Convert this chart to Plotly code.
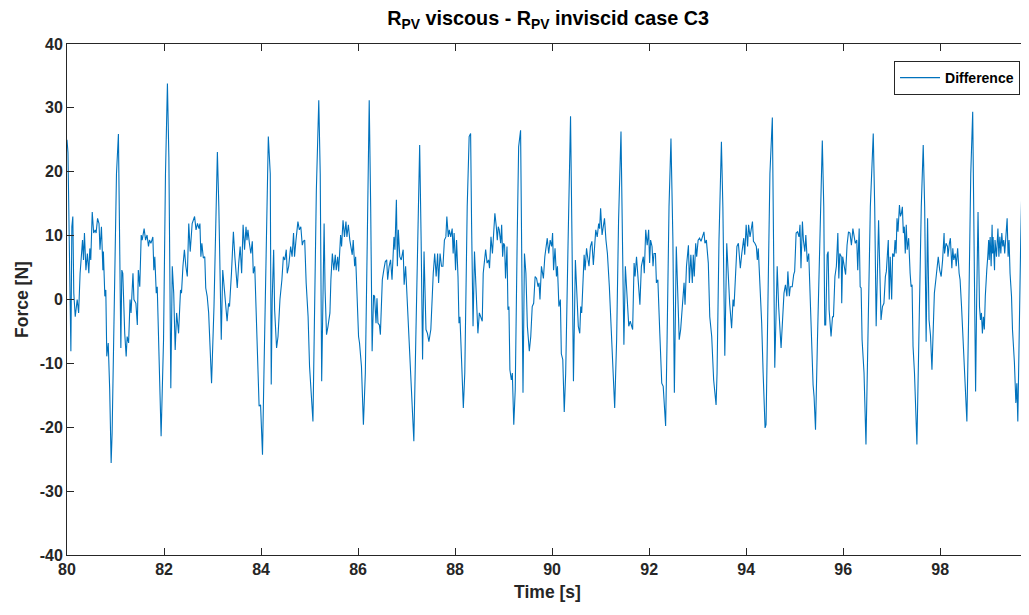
import plotly.graph_objects as go

# Time [s] and force difference [N]
time_s = [
    80.00, 80.02, 80.08, 80.10, 80.12, 80.14, 80.17, 80.21, 80.24, 80.27, 80.32, 80.34, 80.36, 80.39, 80.42,
    80.45, 80.47, 80.49, 80.52, 80.55, 80.58, 80.60, 80.63, 80.66, 80.68, 80.71, 80.74, 80.75, 80.78, 80.80,
    80.82, 80.85, 80.88, 80.91, 80.93, 80.97, 81.02, 81.06, 81.09, 81.11, 81.13, 81.15, 81.19, 81.22, 81.24,
    81.27, 81.30, 81.32, 81.36, 81.38, 81.42, 81.45, 81.47, 81.50, 81.53, 81.55, 81.59, 81.62, 81.65, 81.68,
    81.70, 81.73, 81.77, 81.79, 81.81, 81.84, 81.86, 81.89, 81.94, 81.99, 82.03, 82.07, 82.10, 82.14, 82.17,
    82.20, 82.23, 82.26, 82.30, 82.34, 82.36, 82.39, 82.42, 82.45, 82.48, 82.51, 82.54, 82.58, 82.63, 82.66,
    82.69, 82.72, 82.74, 82.76, 82.78, 82.81, 82.84, 82.86, 82.89, 82.92, 82.98, 83.03, 83.07, 83.10, 83.13,
    83.18, 83.21, 83.24, 83.27, 83.30, 83.33, 83.35, 83.39, 83.43, 83.46, 83.49, 83.51, 83.54, 83.57, 83.60,
    83.63, 83.66, 83.69, 83.71, 83.73, 83.76, 83.79, 83.82, 83.84, 83.87, 83.90, 83.92, 83.96, 83.99, 84.03,
    84.06, 84.11, 84.15, 84.19, 84.21, 84.23, 84.26, 84.28, 84.32, 84.35, 84.39, 84.43, 84.46, 84.49, 84.52,
    84.54, 84.57, 84.61, 84.64, 84.67, 84.69, 84.72, 84.76, 84.79, 84.82, 84.85, 84.87, 84.90, 84.93, 84.97,
    85.00, 85.07, 85.10, 85.14, 85.19, 85.22, 85.25, 85.28, 85.30, 85.32, 85.35, 85.38, 85.42, 85.44, 85.47,
    85.50, 85.53, 85.55, 85.58, 85.60, 85.64, 85.66, 85.69, 85.72, 85.75, 85.77, 85.80, 85.83, 85.86, 85.88,
    85.90, 85.93, 85.95, 85.98, 86.01, 86.03, 86.07, 86.11, 86.15, 86.19, 86.23, 86.26, 86.29, 86.32, 86.34,
    86.37, 86.39, 86.41, 86.44, 86.46, 86.50, 86.53, 86.56, 86.59, 86.61, 86.64, 86.67, 86.70, 86.74, 86.76,
    86.79, 86.81, 86.83, 86.86, 86.89, 86.93, 86.95, 86.98, 87.01, 87.05, 87.08, 87.11, 87.15, 87.19, 87.24,
    87.27, 87.30, 87.33, 87.36, 87.40, 87.43, 87.46, 87.50, 87.53, 87.55, 87.58, 87.61, 87.64, 87.66, 87.69,
    87.72, 87.75, 87.78, 87.81, 87.83, 87.86, 87.88, 87.91, 87.94, 87.96, 87.98, 88.01, 88.03, 88.06, 88.08,
    88.10, 88.13, 88.17, 88.20, 88.25, 88.29, 88.32, 88.34, 88.37, 88.40, 88.42, 88.45, 88.47, 88.50, 88.53,
    88.56, 88.58, 88.61, 88.63, 88.66, 88.69, 88.71, 88.74, 88.77, 88.79, 88.82, 88.85, 88.87, 88.89, 88.91,
    88.94, 88.96, 88.98, 89.00, 89.02, 89.04, 89.07, 89.09, 89.11, 89.13, 89.16, 89.18, 89.21, 89.24, 89.28,
    89.31, 89.35, 89.37, 89.40, 89.43, 89.46, 89.49, 89.53, 89.56, 89.59, 89.62, 89.65, 89.68, 89.71, 89.73,
    89.75, 89.78, 89.82, 89.85, 89.88, 89.90, 89.93, 89.96, 89.99, 90.01, 90.03, 90.06, 90.09, 90.11, 90.14,
    90.17, 90.19, 90.22, 90.25, 90.28, 90.33, 90.38, 90.41, 90.44, 90.48, 90.50, 90.54, 90.57, 90.59, 90.61,
    90.63, 90.66, 90.68, 90.71, 90.74, 90.76, 90.79, 90.82, 90.85, 90.87, 90.90, 90.93, 90.96, 90.98, 91.00,
    91.03, 91.05, 91.08, 91.11, 91.14, 91.18, 91.22, 91.26, 91.29, 91.33, 91.37, 91.42, 91.44, 91.48, 91.51,
    91.55, 91.58, 91.61, 91.64, 91.66, 91.69, 91.71, 91.74, 91.77, 91.81, 91.84, 91.88, 91.90, 91.93, 91.96,
    91.99, 92.01, 92.03, 92.06, 92.08, 92.10, 92.13, 92.15, 92.18, 92.22, 92.26, 92.29, 92.34, 92.37, 92.41,
    92.45, 92.49, 92.52, 92.56, 92.59, 92.62, 92.65, 92.68, 92.72, 92.74, 92.77, 92.81, 92.83, 92.86, 92.89,
    92.91, 92.93, 92.96, 92.98, 93.01, 93.04, 93.07, 93.10, 93.13, 93.15, 93.18, 93.22, 93.25, 93.29, 93.33,
    93.38, 93.40, 93.44, 93.49, 93.52, 93.56, 93.60, 93.63, 93.66, 93.70, 93.73, 93.75, 93.78, 93.81, 93.84,
    93.88, 93.91, 93.95, 93.97, 94.00, 94.03, 94.05, 94.08, 94.10, 94.13, 94.15, 94.18, 94.21, 94.23, 94.25,
    94.28, 94.32, 94.35, 94.39, 94.41, 94.45, 94.49, 94.54, 94.56, 94.59, 94.64, 94.67, 94.72, 94.75, 94.78,
    94.81, 94.84, 94.86, 94.89, 94.91, 94.95, 94.98, 95.00, 95.03, 95.06, 95.09, 95.11, 95.13, 95.16, 95.18,
    95.21, 95.23, 95.26, 95.29, 95.31, 95.35, 95.38, 95.40, 95.43, 95.47, 95.52, 95.57, 95.60, 95.62, 95.64,
    95.67, 95.69, 95.71, 95.75, 95.78, 95.80, 95.83, 95.86, 95.89, 95.91, 95.93, 95.96, 95.97, 95.99, 96.02,
    96.05, 96.08, 96.11, 96.14, 96.17, 96.20, 96.23, 96.25, 96.28, 96.30, 96.33, 96.35, 96.37, 96.39, 96.43,
    96.47, 96.51, 96.56, 96.62, 96.65, 96.68, 96.71, 96.73, 96.76, 96.78, 96.81, 96.84, 96.87, 96.89, 96.93,
    96.95, 96.97, 97.00, 97.02, 97.05, 97.07, 97.09, 97.11, 97.13, 97.16, 97.18, 97.20, 97.22, 97.24, 97.26,
    97.28, 97.30, 97.32, 97.35, 97.38, 97.40, 97.42, 97.44, 97.47, 97.52, 97.56, 97.61, 97.65, 97.68, 97.71,
    97.74, 97.77, 97.80, 97.83, 97.86, 97.88, 97.91, 97.94, 97.96, 97.99, 98.02, 98.05, 98.08, 98.09, 98.12,
    98.15, 98.16, 98.19, 98.21, 98.24, 98.26, 98.28, 98.31, 98.33, 98.36, 98.39, 98.41, 98.44, 98.48, 98.51,
    98.55, 98.59, 98.63, 98.67, 98.70, 98.73, 98.75, 98.78, 98.81, 98.83, 98.85, 98.87, 98.89, 98.91, 98.93,
    98.94, 98.96, 98.98, 99.00, 99.01, 99.03, 99.05, 99.07, 99.08, 99.09, 99.12, 99.13, 99.16, 99.18, 99.19,
    99.21, 99.23, 99.25, 99.27, 99.29, 99.31, 99.33, 99.36, 99.38, 99.40, 99.42, 99.44, 99.47, 99.49, 99.51,
    99.53, 99.56, 99.58, 99.60, 99.62, 99.66, 99.70, 99.73, 99.75, 99.78, 99.82,
]

force_diff = [
    25.0, 23.0, -8.1, 11.4, 13.0, 1.0, -2.7, 0.0, -2.1, 4.1, 9.3, 6.2, 10.4, 4.6, 7.2,
    4.1, 8.0, 6.2, 13.7, 10.4, 10.9, 10.4, 12.7, 11.9, 7.8, 11.4, 4.6, 7.5, 0.5, 1.5,
    -8.9, -6.8, -14.1, -25.6, -20.9, -1.1, 19.7, 25.9, 9.3, -7.6, 4.6, 4.1, -5.3, -8.9, -5.8,
    -6.8, 0.0, -2.1, 4.1, 0.0, -0.6, -4.0, 4.6, 2.0, 10.1, 9.3, 11.1, 9.3, 10.1, 8.3,
    9.3, 8.8, 9.8, 4.6, 6.7, 1.0, 2.0, -6.3, -21.4, -6.3, 19.7, 33.8, 22.3, -13.9, 5.2,
    1.0, -7.9, -2.1, -5.3, 1.5, 1.0, 5.2, 7.8, 5.2, 3.6, 11.9, 7.5, 11.9, 13.0, 10.9,
    11.9, 11.1, 11.9, 6.7, 8.8, 6.5, 6.7, 1.8, 0.5, -2.1, -13.1, -1.1, 14.5, 23.1, 14.5,
    -6.3, 4.6, 1.5, -0.6, -3.4, -0.6, -1.1, 4.1, 10.6, 6.7, 2.6, 1.8, 5.7, 8.3, 4.1,
    11.7, 7.8, 11.4, 9.3, 10.9, 8.8, 7.2, 9.1, 4.1, 5.2, -2.7, -5.8, -16.7, -16.5, -24.3,
    -11.5, 11.9, 25.5, 19.7, -13.3, 0.0, 7.8, -1.6, -7.6, -5.8, 0.0, 3.1, 6.7, 6.2, 7.8,
    4.1, 5.2, 8.3, 6.7, 10.4, 6.7, 9.3, 12.2, 10.9, 11.4, 8.5, 9.1, 9.3, 2.6, -2.7,
    -10.5, -19.1, -1.1, 17.1, 31.2, 19.7, -12.8, -1.1, 11.9, 1.5, -5.5, -4.2, -2.1, 3.1, 7.2,
    4.6, 7.0, 4.6, 6.7, 4.4, 10.1, 8.3, 12.4, 9.8, 12.2, 9.8, 11.7, 9.3, 7.8, 7.0,
    9.3, 5.2, 6.7, 0.0, -5.8, -6.8, -10.5, -19.6, -11.5, 9.3, 31.2, 14.5, -8.1, 0.7, 0.5,
    -3.7, 0.2, -3.7, -4.0, -5.5, 3.1, 4.6, 5.9, 6.2, 3.1, 5.2, 6.2, 3.1, 9.8, 7.8,
    15.6, 5.2, 10.9, 6.7, 6.2, 7.8, 2.3, 5.2, 0.0, -6.3, -11.5, -17.2, -22.2, -6.3, 17.1,
    24.2, 9.3, -9.4, 7.5, -4.7, -5.3, -6.6, -4.7, 1.5, 4.1, 7.2, 3.6, 7.2, 2.6, 7.2,
    5.2, 5.2, 9.3, 9.8, 13.0, 9.8, 10.9, 9.8, 11.1, 7.2, 10.4, 4.6, 9.3, 3.6, -3.7,
    -2.7, -8.9, -17.0, -11.5, 14.5, 25.5, 26.0, 11.9, -4.2, 7.5, 3.1, -0.6, -5.3, -2.1, -2.7,
    -3.4, 4.1, 6.7, 7.8, 5.7, 6.2, 4.9, 9.8, 7.2, 10.4, 13.5, 11.4, 9.3, 11.4, 10.9,
    8.8, 11.7, 6.7, 8.8, 8.5, 3.3, 8.3, -1.6, -1.1, -11.0, -12.6, -11.5, -19.6, -14.1, 9.3,
    23.9, 26.5, 9.3, -14.6, 7.2, 4.1, -4.2, -8.1, -5.8, -1.1, -0.6, 3.6, 3.3, 2.0, 2.6,
    0.0, 5.2, 3.3, 6.7, 8.3, 9.6, 7.2, 9.3, 8.3, 10.4, 4.6, 8.0, 3.6, 5.2, -1.1,
    0.0, -8.5, -9.4, -17.6, -11.5, 9.3, 28.7, 9.3, -12.8, 6.2, 2.0, -4.2, -5.3, -1.1, -2.1,
    3.1, 7.0, 4.6, 8.0, 6.2, 5.2, 8.3, 9.1, 5.4, 8.3, 10.9, 9.8, 11.9, 11.1, 14.3,
    10.1, 11.4, 12.7, 9.3, 7.2, 2.0, -5.3, -12.0, -17.0, -6.3, 12.4, 26.3, 14.5, -7.1, 5.2,
    0.0, -4.2, -3.4, -4.0, -4.7, 5.7, 3.6, 6.7, 2.6, -0.8, 5.2, 6.7, 4.1, 10.9, 8.5,
    10.9, 5.7, 9.3, 8.3, 5.2, 7.2, 7.2, 2.6, 3.1, -5.3, -13.1, -13.6, -19.8, -6.3, 14.5,
    25.2, 9.3, -14.6, 8.3, 1.0, -6.3, -4.7, -1.6, 2.6, -0.8, 5.2, 8.5, 2.6, 7.0, 2.6,
    7.0, 3.6, 8.8, 6.7, 9.3, 9.6, 9.1, 9.8, 10.6, 8.8, 9.3, 5.7, -2.7, -5.8, -12.6,
    -16.5, -11.5, 9.3, 24.7, 14.5, -8.8, 8.8, 3.1, -0.6, -4.5, 0.0, -1.1, 4.1, 8.3, 8.8,
    4.9, 7.2, 9.6, 7.0, 11.7, 8.3, 11.7, 9.8, 10.9, 12.2, 9.1, 8.8, 8.3, 6.2, 8.0,
    3.1, -3.7, -11.5, -20.1, -19.6, -1.1, 19.7, 28.5, 14.5, -10.7, 5.2, -1.1, -7.6, -3.4, 1.0,
    2.3, 0.5, 4.4, 0.5, 2.0, 2.0, 3.9, 4.4, 10.4, 10.6, 9.8, 11.7, 4.9, 12.2, 9.3,
    7.5, 10.1, 5.9, 7.2, 2.3, -7.3, -13.4, -15.2, -20.4, -6.3, 9.3, 24.9, 14.5, -4.0, -4.0,
    7.0, 7.5, -1.6, -5.8, -2.7, -2.7, 3.6, 5.2, 10.4, 3.3, 7.2, 6.7, -0.6, 6.7, 5.2,
    3.9, 8.5, 10.6, 10.4, 8.5, 11.1, 9.3, 8.8, 9.3, 4.6, 11.1, 2.0, 1.8, -6.3, -11.5,
    -22.7, -6.3, 14.5, 26.0, 14.5, -4.2, 9.3, 12.4, 3.1, -3.2, -1.1, -0.6, 3.6, 4.4, 9.3,
    0.0, 6.7, 0.0, 7.2, 6.7, 9.3, 7.2, 12.7, 10.6, 14.8, 13.0, 13.5, 14.5, 10.4, 11.4,
    7.2, 11.7, 7.8, 9.6, 4.1, 2.0, 2.3, -7.3, -11.5, -22.7, -6.3, 14.5, 24.2, 14.5, -6.6,
    12.7, -3.2, -5.6, -11.0, -2.5, 1.0, 3.1, 5.5, 6.7, 4.6, 3.6, 6.2, 10.4, 7.2, 8.8,
    8.3, 6.7, 8.8, 9.6, 4.9, 8.0, 6.2, 7.2, 5.2, 8.0, 4.1, 3.1, -1.1, -7.3, -12.0,
    -19.1, -1.1, 19.7, 29.4, 9.3, -14.4, -1.1, 13.7, -1.1, -3.2, -2.1, -5.3, -2.7, -4.7, 0.5,
    2.6, 4.6, 6.7, 9.3, 6.2, 9.8, 5.2, 11.7, 7.2, 9.8, 4.6, 9.3, 6.7, 10.4, 11.1,
    6.7, 9.8, 7.2, 10.4, 8.3, 9.3, 7.2, 10.9, 12.7, 6.7, 9.3, 4.1, 0.5, -4.7, -6.8,
    -9.9, -16.2, -13.1, -19.1, -8.9, 9.3, 23.9, 24.4, 18.2, -7.3, 13.5,
]

x_ticks = [80, 82, 84, 86, 88, 90, 92, 94, 96, 98]
y_ticks = [-40, -30, -20, -10, 0, 10, 20, 30, 40]
x_range = [80, 99.81]
y_range = [-40, 40]

series_name = "Difference"
title_text = "<b>R<sub>PV</sub> viscous - R<sub>PV</sub> inviscid case C3</b>"
x_title = "<b>Time [s]</b>"
y_title = "<b>Force [N]</b>"

FONT = "Liberation Sans, Arial, Helvetica, sans-serif"
AXIS_COLOR = "#262626"

fig = go.Figure()
fig.add_trace(go.Scatter(
    x=time_s, y=force_diff, mode="lines", name=series_name,
    line=dict(color="#0072BD", width=1.1),
))

axis_common = dict(
    showgrid=False, zeroline=False, showline=True, linecolor=AXIS_COLOR, linewidth=1,
    mirror="ticks", ticks="inside", ticklen=7, tickcolor=AXIS_COLOR, tickwidth=1,
    tickfont=dict(family=FONT, size=16, color="#262626", weight="bold"),
    automargin=False,
)

fig.update_layout(
    autosize=False,
    width=1021, height=599,
    margin=dict(l=59, r=1, t=36, b=52),
    paper_bgcolor="white", plot_bgcolor="white",
    font=dict(family=FONT, color="#262626"),
    title=dict(text=title_text, x=0.529, xanchor="center", y=0.995, yanchor="top",
               font=dict(family=FONT, size=19.8, color="#000000")),
    showlegend=True,
    legend=dict(x=0.9917, y=0.9667, xanchor="right", yanchor="top",
                bgcolor="white", bordercolor=AXIS_COLOR, borderwidth=1,
                font=dict(family=FONT, size=14, color="#000000", weight="bold"),
                itemwidth=40, tracegroupgap=0),
    xaxis=dict(range=x_range, tickvals=x_ticks, ticktext=[str(v) for v in x_ticks],
               title=dict(text=x_title, font=dict(family=FONT, size=17.5, color="#262626"), standoff=8),
               **axis_common),
    yaxis=dict(range=y_range, tickvals=y_ticks, ticktext=[str(v) for v in y_ticks],
               title=dict(text=y_title, font=dict(family=FONT, size=17.5, color="#262626"), standoff=6),
               **axis_common),
)

fig.write_html("out.html")
